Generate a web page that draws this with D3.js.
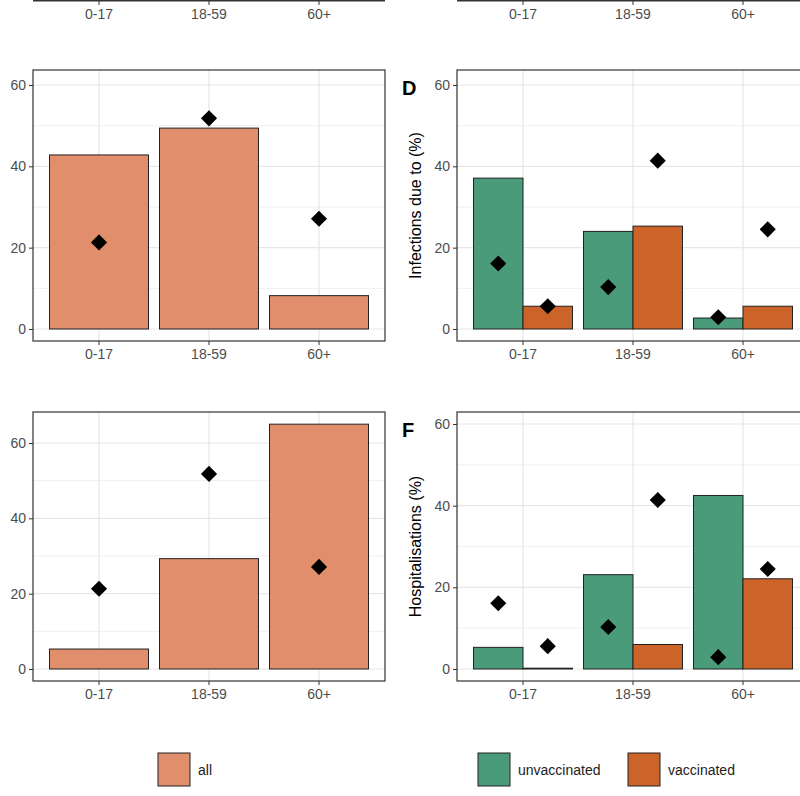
<!DOCTYPE html>
<html>
<head>
<meta charset="UTF-8">
<script src="https://d3js.org/d3.v7.min.js"></script>
<style>
  html, body { margin: 0; padding: 0; background: white; }
  text { font-family: Arial, "Liberation Sans", sans-serif; }
</style>
</head>
<body>
<svg id="plot" width="800" height="796"></svg>
<script>
const ages = ["0-17", "18-59", "60+"];
const groups = ["unvaccinated", "vaccinated"];
// panel C: all infections (bars) and population share (diamonds)
const infAll = [42.8, 49.4, 8.2];
const popAll = [21.3, 51.8, 27.1];
// panel E: hospitalisations
const hospAll = [5.3, 29.3, 65.0];
// panel D: infections by vaccination status
const infUnvac = [37.1, 24.0, 2.7];
const infVac = [5.6, 25.3, 5.6];
const popUnvac = [16.1, 10.3, 2.9];
const popVac = [5.6, 41.4, 24.5];
// panel F: hospitalisations by vaccination status
const hospUnvac = [5.3, 23.1, 42.5];
const hospVac = [0.2, 6.0, 22.1];
const yTicks = [0, 20, 40, 60];

const colAll = "#E08E6B", colUnvac = "#4A9B7A", colVac = "#CC6328";
const svg = d3.select("#plot");

function panel(opt) {
  const g = svg.append("g");
  const x = d3.scaleBand().domain(ages).range([opt.x0 + 11, opt.x0 + 341]);
  const x0 = opt.x0, x1 = opt.x0 + 352;
  const y = d3.scaleLinear().domain([0, opt.ymax]).range([opt.yb, opt.yt]);
  // grid
  const minor = [10, 30, 50, 70].filter(v => v <= opt.ymax);
  g.selectAll(".mg").data(minor).join("line")
    .attr("x1", x0).attr("x2", x1).attr("y1", d => y(d)).attr("y2", d => y(d))
    .attr("stroke", "#f0f0f0").attr("stroke-width", 1);
  g.selectAll(".yg").data(yTicks).join("line")
    .attr("x1", x0).attr("x2", x1).attr("y1", d => y(d)).attr("y2", d => y(d))
    .attr("stroke", "#e6e6e6").attr("stroke-width", 1.2);
  g.selectAll(".xg").data(ages).join("line")
    .attr("x1", d => x(d) + 55).attr("x2", d => x(d) + 55).attr("y1", opt.yt).attr("y2", opt.yb0)
    .attr("stroke", "#e6e6e6").attr("stroke-width", 1.2);

  const bw = x.bandwidth();
  if (opt.single) {
    g.selectAll(".bar").data(ages).join("rect")
      .attr("x", d => x(d) + bw * 0.05).attr("width", bw * 0.9)
      .attr("y", (d, i) => y(opt.single[i])).attr("height", (d, i) => y(0) - y(opt.single[i]))
      .attr("fill", colAll).attr("stroke", "#222").attr("stroke-width", 1);
    diamonds(g, ages.map((a, i) => [x(a) + bw / 2, y(opt.pts[i])]));
  } else {
    const sub = d3.scaleBand().domain(groups).range([0, bw * 0.9]);
    [opt.unvac, opt.vac].forEach((vals, k) => {
      g.selectAll(".bar" + k).data(ages).join("rect")
        .attr("x", d => x(d) + bw * 0.05 + sub(groups[k])).attr("width", sub.bandwidth())
        .attr("y", (d, i) => y(vals[i])).attr("height", (d, i) => y(0) - y(vals[i]))
        .attr("fill", k ? colVac : colUnvac).attr("stroke", "#222").attr("stroke-width", 1);
    });
    [opt.pu, opt.pv].forEach((vals, k) => {
      diamonds(g, ages.map((a, i) => [x(a) + bw * 0.05 + sub(groups[k]) + sub.bandwidth() / 2, y(vals[i])]));
    });
  }
  // frame
  g.append("rect").attr("x", x0).attr("y", opt.yt).attr("width", 352).attr("height", opt.yb0 - opt.yt)
    .attr("fill", "none").attr("stroke", "#333").attr("stroke-width", 1.2);
  // axes
  const ya = g.append("g").attr("transform", `translate(${x0},0)`)
    .call(d3.axisLeft(y).tickValues(yTicks).tickSize(4).tickPadding(3));
  const xa = g.append("g").attr("transform", `translate(0,${opt.yb0})`)
    .call(d3.axisBottom(x).tickSize(4).tickPadding(4));
  [ya, xa].forEach(a => {
    a.select(".domain").remove();
    a.selectAll("text").attr("fill", "#4d4d4d").style("font-size", "14px");
    a.selectAll("line").attr("stroke", "#333");
  });
  if (opt.title) {
    g.append("text").attr("transform", `translate(${x0 - 36},${(opt.yt + opt.yb0) / 2}) rotate(-90)`)
      .attr("text-anchor", "middle").style("font-size", "16px").attr("fill", "#000").text(opt.title);
  }
  if (opt.tag) {
    g.append("text").attr("x", x0 - 55).attr("y", opt.yt + 25).style("font-size", "20px")
      .style("font-weight", "bold").text(opt.tag);
  }
}

function diamonds(g, pts) {
  g.selectAll(null).data(pts).join("path")
    .attr("d", d3.symbol(d3.symbolSquare, 130))
    .attr("transform", d => `translate(${d[0]},${d[1]}) rotate(45)`)
    .attr("fill", "#000");
}

// top partial row (cropped)
[33, 457].forEach(x0 => {
  svg.append("line").attr("x1", x0).attr("x2", x0 + 352).attr("y1", 0.5).attr("y2", 0.5)
    .attr("stroke", "#333").attr("stroke-width", 1.8);
  const xs = d3.scaleBand().domain(ages).range([x0 + 11, x0 + 341]);
  svg.append("g").attr("transform", "translate(0,1)")
    .call(d3.axisBottom(xs).tickSize(4).tickPadding(4))
    .call(a => { a.select(".domain").remove();
      a.selectAll("text").attr("fill", "#4d4d4d").style("font-size", "14px");
      a.selectAll("line").attr("stroke", "#333"); });
});

panel({ x0: 33, yt: 70, yb: 329, yb0: 341, ymax: 60 * (329 - 70) / 244, single: infAll, pts: popAll });
panel({ x0: 457, yt: 70, yb: 329, yb0: 341, ymax: 60 * (329 - 70) / 244, unvac: infUnvac, vac: infVac, pu: popUnvac, pv: popVac, title: "Infections due to (%)", tag: "D" });
panel({ x0: 33, yt: 412, yb: 669, yb0: 681, ymax: 60 * (669 - 412) / 226, single: hospAll, pts: popAll });
panel({ x0: 457, yt: 412, yb: 669, yb0: 681, ymax: 60 * (669 - 412) / 245, unvac: hospUnvac, vac: hospVac, pu: popUnvac, pv: popVac, title: "Hospitalisations (%)", tag: "F" });

// legends
const legItems = [
  { x: 158, label: "all", col: colAll },
  { x: 478, label: "unvaccinated", col: colUnvac },
  { x: 628, label: "vaccinated", col: colVac }
];
legItems.forEach(d => {
  svg.append("rect").attr("x", d.x).attr("y", 753).attr("width", 32).attr("height", 33)
    .attr("fill", d.col).attr("stroke", "#222").attr("stroke-width", 1);
  svg.append("text").attr("x", d.x + 40).attr("y", 775).style("font-size", "14px")
    .attr("fill", "#222").text(d.label);
});
</script>
</body>
</html>
